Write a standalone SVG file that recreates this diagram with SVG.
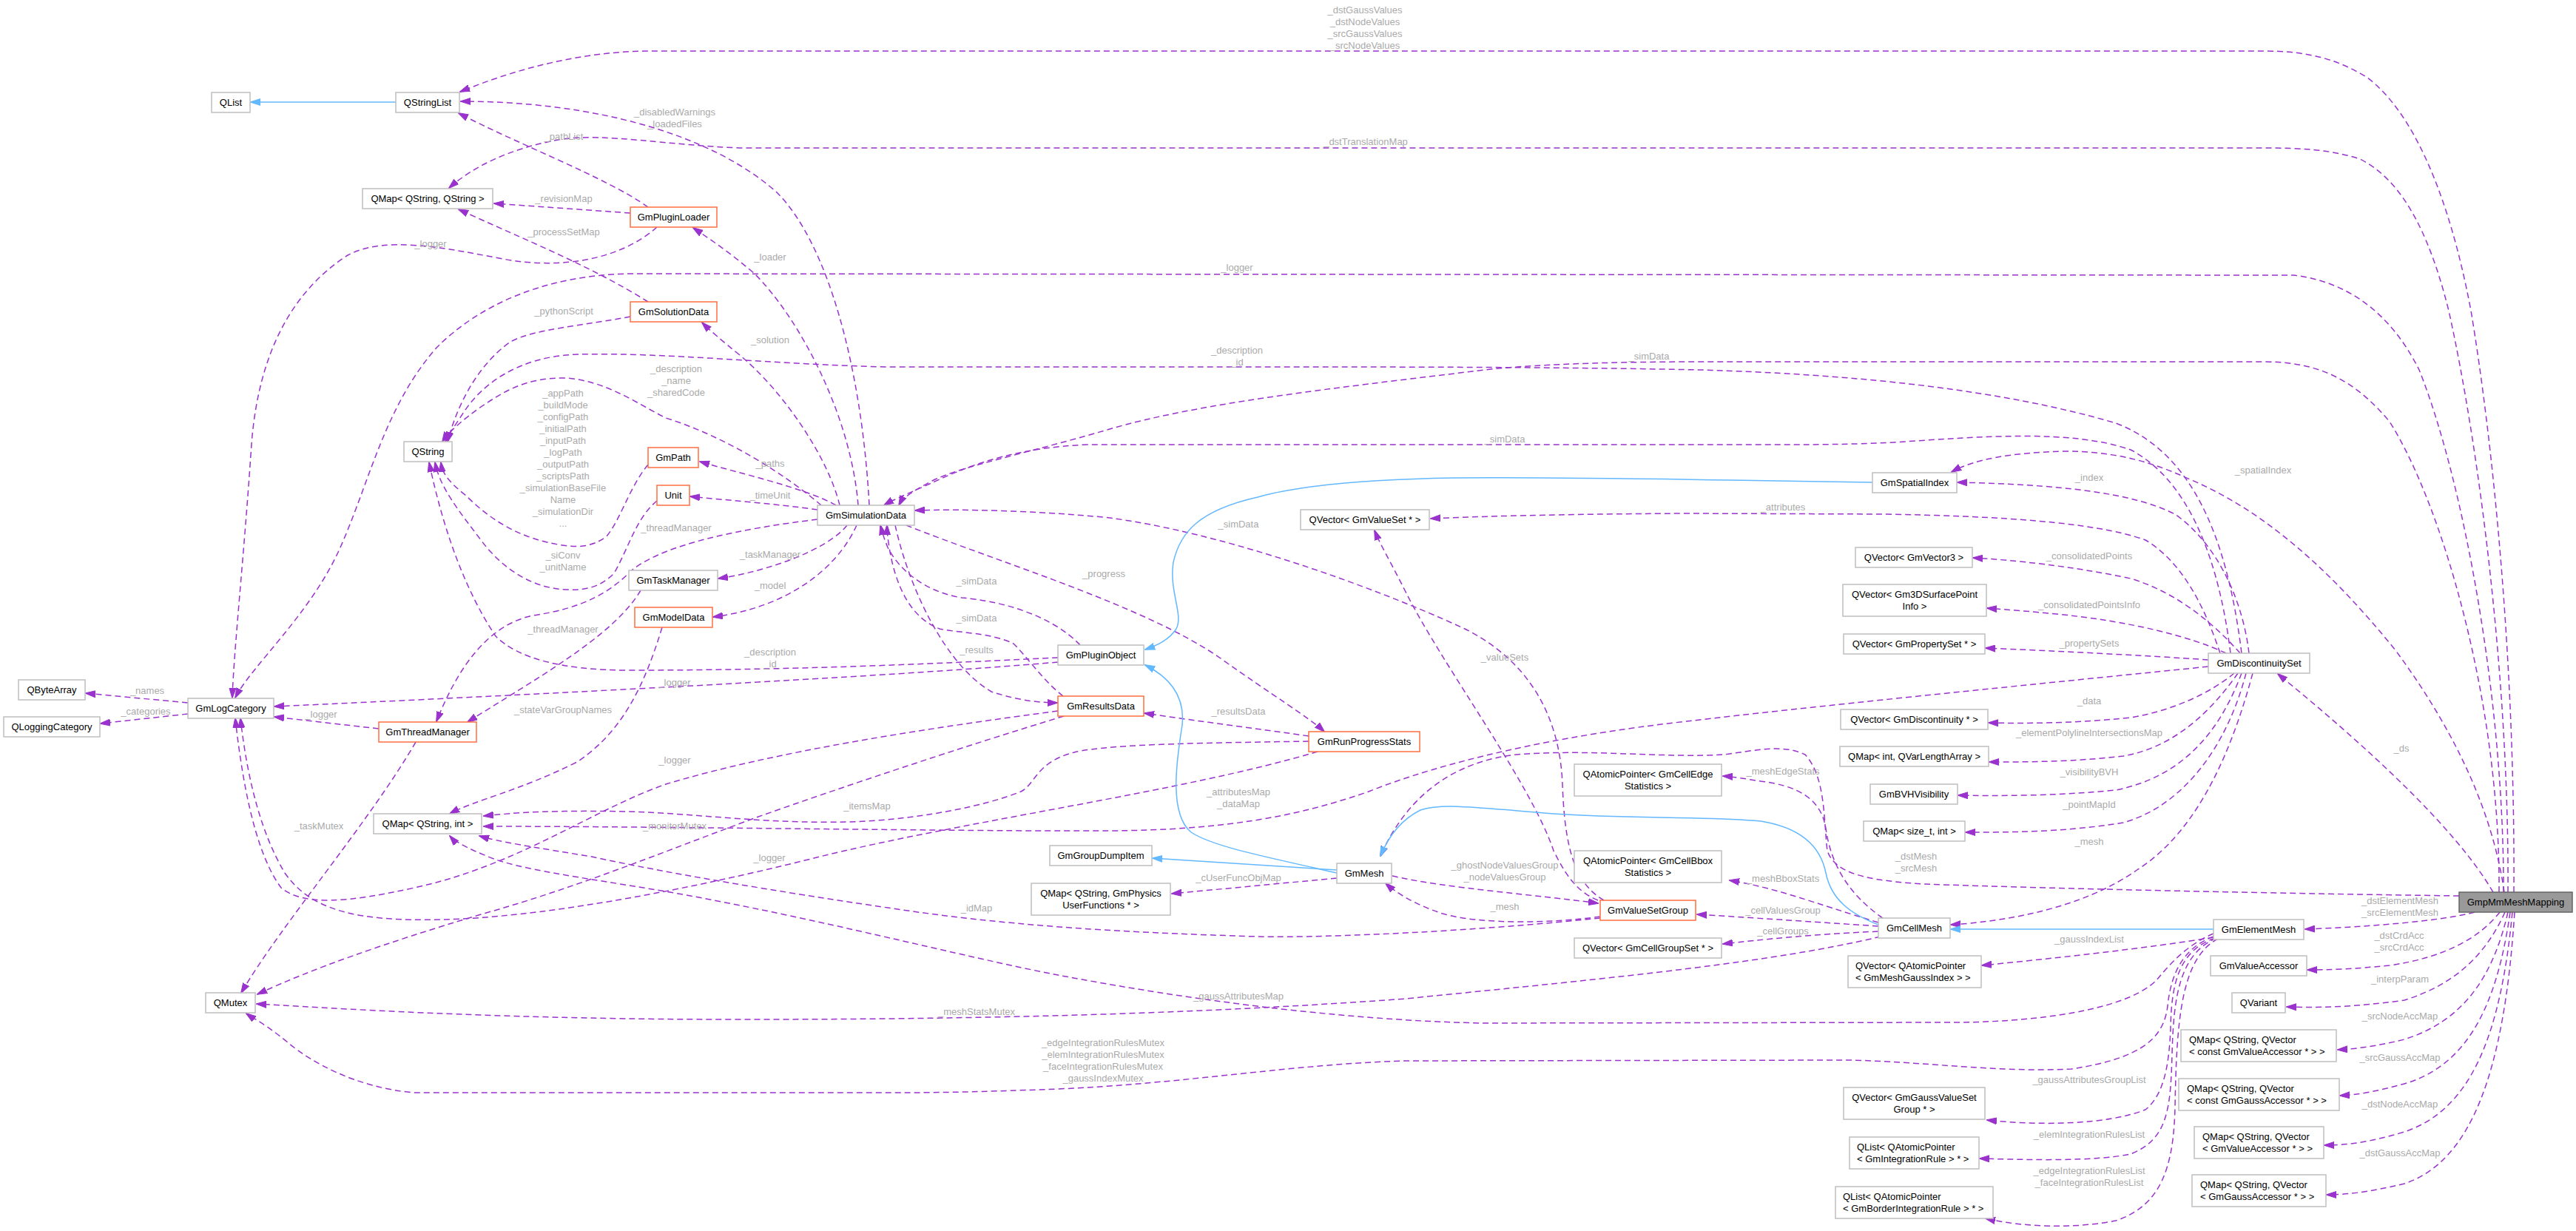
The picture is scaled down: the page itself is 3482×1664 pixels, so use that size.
<svg xmlns="http://www.w3.org/2000/svg" width="3482" height="1664" viewBox="0 0 3482 1664">
<style>
text{font-family:"Liberation Sans",Arial,sans-serif;font-size:13px}
.n rect{fill:#fff;stroke:#bfbfbf;stroke-width:1.5}
.n.t rect{stroke:#ff6f3f}
.n.m rect{fill:#999;stroke:#666}
.n text{fill:#000;text-anchor:middle}
.n text.l{text-anchor:start}
.lb text{fill:#aaa;text-anchor:middle}
.e{fill:none;stroke:#9a32cd;stroke-width:1.5;stroke-dasharray:8,5;marker-end:url(#ap)}
.i{fill:none;stroke:#63b8ff;stroke-width:1.5;marker-end:url(#ab)}
</style>
<defs>
<marker id="ap" markerUnits="userSpaceOnUse" markerWidth="14" markerHeight="10" viewBox="0 0 14 10" refX="13" refY="5" orient="auto"><path d="M0,0.5 L14,5 L0,9.5 z" fill="#9a32cd" stroke="#9a32cd"/></marker>
<marker id="ab" markerUnits="userSpaceOnUse" markerWidth="14" markerHeight="10" viewBox="0 0 14 10" refX="13" refY="5" orient="auto"><path d="M0,0.5 L14,5 L0,9.5 z" fill="#63b8ff" stroke="#63b8ff"/></marker>
</defs>
<rect width="3482" height="1664" fill="#fff"/>
<g id="edges">
<path class="e" d="M3398,1206 C3400,900 3370,600 3340,420 C3310,260 3260,150 3200,105 C3160,80 3120,69 3060,69 L880,69 C790,69 700,92 622,124"/>
<path class="e" d="M3390,1206 C3392,920 3350,600 3310,420 C3280,300 3240,240 3190,215 C3150,202 3110,200 3060,200 L1000,200 C900,196 820,180 760,188 C690,200 640,225 607,254"/>
<path class="e" d="M3384,1206 C3385,950 3330,650 3270,500 C3230,420 3170,380 3100,372 L850,370 C740,372 650,410 590,470 C520,550 500,650 460,740 C420,830 340,900 318,943"/>
<path class="e" d="M3378,1206 C3380,950 3300,680 3230,570 C3180,510 3130,489 3060,489 L2300,489 C2150,489 2050,494 1990,502 C1800,525 1620,545 1500,580 C1380,615 1300,630 1260,650 C1235,663 1220,673 1215,683"/>
<path class="e" d="M3015,883 C3000,760 2960,650 2880,608 C2800,580 2680,590 2560,598 C2500,601 2450,601 2400,601 L1470,601 C1380,605 1320,625 1270,648 C1235,664 1208,675 1195,683"/>
<path class="e" d="M3030,883 C3010,720 2960,610 2860,572 C2700,525 2500,506 2300,500 C2100,496 1900,496 1700,496 L1200,496 C1050,493 900,476 780,479 C700,482 650,520 625,560 C615,575 606,588 602,597"/>
<path class="e" d="M876,280 C820,240 700,195 620,153"/>
<path class="e" d="M1175,683 C1165,500 1120,330 1050,260 C960,180 800,137 623,137"/>
<path class="e" d="M852,288 L668,275"/>
<path class="e" d="M876,408 C800,360 700,320 620,283"/>
<path class="e" d="M888,307 C840,350 760,365 680,350 C600,335 520,318 470,345 C400,390 350,470 340,600 C330,750 316,880 314,943"/>
<path class="e" d="M1160,683 C1150,560 1080,430 1020,370 C985,340 955,320 937,308"/>
<path class="e" d="M1135,683 C1120,620 1060,530 1000,480 C975,460 958,445 949,436"/>
<path class="e" d="M852,428 C790,440 720,445 690,462 C650,490 620,540 605,597"/>
<path class="e" d="M1110,683 C1060,640 980,590 900,565 C860,545 820,515 765,511 C710,510 680,530 650,550 C625,568 605,585 598,597"/>
<path class="e" d="M876,628 C850,660 840,700 820,725 C800,740 780,740 760,737 C700,728 660,700 630,670 C605,650 598,640 596,625"/>
<path class="e" d="M888,677 C860,700 850,740 830,775 C810,795 790,798 765,797 C720,795 680,770 650,730 C620,690 595,660 588,625"/>
<path class="e" d="M1430,889 C1300,895 1100,906 850,906 C760,906 700,890 670,860 C630,800 600,720 580,625"/>
<path class="e" d="M1130,683 C1090,660 1000,640 946,624"/>
<path class="e" d="M1105,689 C1050,681 980,676 933,671"/>
<path class="e" d="M1105,702 C1000,715 900,735 855,770 C825,800 790,822 720,832 C660,845 620,900 590,975"/>
<path class="e" d="M866,798 C830,860 720,920 632,976"/>
<path class="e" d="M1145,710 C1120,742 1040,772 971,782"/>
<path class="e" d="M1158,710 C1130,772 1060,822 964,834"/>
<path class="e" d="M254,950 L116,937"/>
<path class="e" d="M254,965 L136,978"/>
<path class="e" d="M512,985 L371,969"/>
<path class="e" d="M895,848 C870,930 840,990 780,1030 C700,1070 640,1082 608,1100"/>
<path class="e" d="M562,1003 C500,1110 380,1250 326,1342"/>
<path class="e" d="M1430,895 C1200,915 700,940 371,955"/>
<path class="e" d="M1430,961 C1250,985 1050,1015 900,1060 C800,1095 700,1170 560,1200 C470,1220 410,1225 380,1200 C350,1160 330,1080 318,971"/>
<path class="e" d="M1781,1016 C1600,1070 1300,1110 1100,1160 C900,1210 720,1240 600,1243 C480,1246 420,1230 385,1180 C355,1130 335,1060 325,971"/>
<path class="e" d="M1438,968 C1300,1010 1150,1060 1025,1104 C900,1150 780,1200 650,1236 C520,1275 420,1310 348,1344"/>
<path class="e" d="M1769,1002 C1650,1004 1500,1005 1452,1017 C1400,1030 1400,1060 1380,1070 C1330,1090 1250,1105 1172,1110 C1050,1116 950,1100 850,1097 C750,1095 700,1098 654,1103"/>
<path class="e" d="M2985,901 C2700,930 2450,955 2280,975 C2100,995 1950,1030 1850,1070 C1750,1105 1650,1122 1500,1123 C1300,1124 900,1117 654,1117"/>
<path class="e" d="M2163,1241 C2000,1258 1800,1268 1700,1266 C1500,1260 1350,1250 1200,1227 C1050,1205 900,1180 800,1158 C720,1145 675,1138 648,1130"/>
<path class="e" d="M2992,1262 C2960,1275 2935,1300 2915,1325 C2880,1360 2780,1380 2650,1382 L2000,1383 C1800,1378 1600,1350 1430,1318 C1300,1293 1100,1240 900,1205 C780,1185 700,1175 660,1158 C635,1148 615,1138 608,1130"/>
<path class="e" d="M2542,1266 C2400,1300 2200,1320 1900,1350 C1600,1372 1300,1378 1000,1378 C700,1378 500,1366 347,1357"/>
<path class="e" d="M2992,1266 C2955,1280 2935,1310 2930,1360 C2925,1400 2900,1430 2800,1445 C2700,1450 2600,1435 2500,1433 L1900,1434 C1750,1438 1600,1465 1430,1472 C1300,1477 1250,1477 1200,1477 L560,1477 C480,1470 420,1435 390,1410 C360,1385 340,1375 333,1370"/>
<path class="e" d="M2992,1267 C2900,1282 2780,1295 2679,1305"/>
<path class="e" d="M2994,1268 C2945,1285 2935,1330 2934,1390 C2932,1440 2925,1480 2900,1500 C2850,1520 2760,1522 2686,1514"/>
<path class="e" d="M2996,1268 C2945,1290 2938,1350 2936,1425 C2934,1500 2930,1540 2880,1560 C2830,1570 2750,1568 2676,1566"/>
<path class="e" d="M2998,1269 C2948,1295 2942,1380 2940,1497 C2938,1580 2920,1630 2860,1650 C2800,1662 2730,1658 2684,1647"/>
<path class="e" d="M1807,1187 L1584,1208"/>
<path class="e" d="M1882,1184 C1950,1200 2080,1210 2160,1221"/>
<path class="e" d="M2163,1239 C2100,1248 2000,1250 1950,1235 C1910,1222 1885,1205 1873,1194"/>
<path class="e" d="M2160,1217 C2130,1205 2115,1180 2100,1150 C2070,1060 1950,900 1900,800 C1880,760 1865,735 1858,717"/>
<path class="e" d="M2168,1217 C2130,1195 2115,1150 2112,1060 C2108,960 2060,890 1980,850 C1850,790 1650,720 1500,700 C1400,690 1300,688 1237,690"/>
<path class="e" d="M1225,710 C1350,760 1550,820 1650,890 C1720,940 1770,970 1790,989"/>
<path class="e" d="M1210,710 C1230,800 1280,900 1340,935 C1380,948 1410,950 1429,950"/>
<path class="e" d="M1460,872 C1420,830 1350,812 1300,808 C1250,800 1215,770 1200,740 C1195,728 1192,718 1190,710"/>
<path class="e" d="M1437,941 C1410,920 1390,890 1370,870 C1340,855 1290,855 1270,850 C1230,835 1210,790 1202,740 C1200,728 1199,718 1199,710"/>
<path class="e" d="M1769,995 C1700,985 1620,975 1547,964"/>
<path class="e" d="M3001,883 C2980,820 2950,760 2900,730 C2830,705 2700,698 2550,695 L2280,694 C2100,695 2000,698 1934,701"/>
<path class="e" d="M3385,1206 C3370,1100 3320,990 3238,879 C3150,770 3060,690 2960,648 C2900,620 2850,610 2790,610 C2720,612 2670,620 2638,638"/>
<path class="e" d="M3040,883 C3030,800 2990,730 2940,695 C2880,665 2780,655 2646,652"/>
<path class="e" d="M3028,883 C2990,840 2940,800 2880,782 C2800,765 2720,757 2667,754"/>
<path class="e" d="M3009,883 C2960,860 2880,840 2780,830 C2740,826 2710,824 2686,822"/>
<path class="e" d="M2985,892 C2900,886 2780,880 2684,876"/>
<path class="e" d="M3020,910 C2990,935 2940,960 2880,970 C2800,978 2740,978 2688,977"/>
<path class="e" d="M3025,910 C2990,960 2940,1010 2870,1022 C2800,1030 2740,1030 2689,1030"/>
<path class="e" d="M3030,910 C3000,990 2950,1050 2860,1068 C2780,1076 2700,1076 2647,1075"/>
<path class="e" d="M3036,910 C3010,1010 2950,1090 2870,1112 C2790,1125 2720,1125 2657,1125"/>
<path class="e" d="M3045,910 C3010,1040 2960,1130 2890,1175 C2820,1225 2720,1245 2637,1250"/>
<path class="e" d="M3370,1206 C3320,1120 3200,1010 3079,911"/>
<path class="e" d="M3324,1211 C3100,1208 2800,1202 2600,1195 C2520,1190 2480,1180 2470,1150 C2465,1110 2468,1050 2440,1020 C2410,1005 2370,1015 2330,1020 C2250,1025 2150,1012 2050,1020 C1960,1030 1900,1080 1866,1157"/>
<path class="e" d="M2545,1241 C2500,1210 2475,1170 2468,1120 C2462,1080 2430,1062 2380,1056 C2360,1053 2345,1050 2329,1049"/>
<path class="e" d="M2539,1247 C2450,1220 2400,1200 2338,1190"/>
<path class="e" d="M2539,1252 C2450,1246 2360,1240 2294,1236"/>
<path class="e" d="M2539,1259 C2450,1263 2380,1270 2329,1276"/>
<path class="e" d="M3345,1233 C3300,1245 3200,1253 3116,1256"/>
<path class="e" d="M3379,1233 C3350,1270 3300,1295 3230,1305 C3180,1310 3150,1311 3119,1311"/>
<path class="e" d="M3386,1233 C3360,1290 3320,1330 3250,1352 C3180,1362 3130,1362 3091,1361"/>
<path class="e" d="M3390,1233 C3370,1320 3330,1380 3250,1405 C3210,1415 3180,1418 3160,1419"/>
<path class="e" d="M3393,1233 C3375,1360 3335,1440 3250,1465 C3210,1476 3185,1480 3163,1481"/>
<path class="e" d="M3396,1233 C3380,1400 3340,1500 3250,1530 C3200,1545 3170,1548 3142,1548"/>
<path class="e" d="M3399,1233 C3385,1450 3340,1570 3250,1600 C3200,1612 3170,1615 3145,1615"/>
<path class="i" d="M535,138 L339,138"/>
<path class="i" d="M2992,1256 L2637,1256"/>
<path class="i" d="M2539,1250 C2500,1235 2475,1215 2468,1180 C2460,1140 2430,1118 2380,1110 C2300,1103 2200,1107 2100,1100 C2000,1092 1950,1085 1920,1095 C1890,1110 1875,1135 1866,1157"/>
<path class="i" d="M1807,1176 L1558,1160"/>
<path class="i" d="M1807,1180 C1720,1160 1640,1145 1610,1125 C1580,1100 1590,1030 1598,980 C1602,940 1580,915 1548,899"/>
<path class="i" d="M2531,652 C2300,648 2100,645 1965,646 C1850,648 1760,655 1700,672 C1620,690 1595,720 1586,760 C1580,800 1600,830 1590,850 C1580,865 1565,872 1548,878"/>
</g>
<g id="edge-labels" class="lb">
<text x="1845" y="18">_dstGaussValues</text>
<text x="1845" y="34">_dstNodeValues</text>
<text x="1845" y="50">_srcGaussValues</text>
<text x="1845" y="66">_srcNodeValues</text>
<text x="1846" y="196">_dstTranslationMap</text>
<text x="1672" y="366">_logger</text>
<text x="1672" y="478">_description</text>
<text x="1672" y="494">_id</text>
<text x="2229" y="486">_simData</text>
<text x="762" y="189">_pathList</text>
<text x="912" y="156">_disabledWarnings</text>
<text x="912" y="172">_loadedFiles</text>
<text x="762" y="273">_revisionMap</text>
<text x="762" y="318">_processSetMap</text>
<text x="582" y="334">_logger</text>
<text x="1041" y="352">_loader</text>
<text x="1041" y="464">_solution</text>
<text x="762" y="425">_pythonScript</text>
<text x="914" y="503">_description</text>
<text x="914" y="519">_name</text>
<text x="914" y="535">_sharedCode</text>
<text x="761" y="536">_appPath</text>
<text x="761" y="552">_buildMode</text>
<text x="761" y="568">_configPath</text>
<text x="761" y="584">_initialPath</text>
<text x="761" y="600">_inputPath</text>
<text x="761" y="616">_logPath</text>
<text x="761" y="632">_outputPath</text>
<text x="761" y="648">_scriptsPath</text>
<text x="761" y="664">_simulationBaseFile</text>
<text x="761" y="680">Name</text>
<text x="761" y="696">_simulationDir</text>
<text x="761" y="712">...</text>
<text x="1041" y="631">_paths</text>
<text x="1041" y="674">_timeUnit</text>
<text x="914" y="718">_threadManager</text>
<text x="761" y="755">_siConv</text>
<text x="761" y="771">_unitName</text>
<text x="1041" y="754">_taskManager</text>
<text x="1041" y="796">_model</text>
<text x="761" y="855">_threadManager</text>
<text x="1041" y="886">_description</text>
<text x="1041" y="902">_id</text>
<text x="912" y="927">_logger</text>
<text x="199" y="938">_names</text>
<text x="197" y="966">_categories</text>
<text x="434" y="970">_logger</text>
<text x="761" y="964">_stateVarGroupNames</text>
<text x="912" y="1032">_logger</text>
<text x="1172" y="1094">_itemsMap</text>
<text x="912" y="1121">_monitorMutex</text>
<text x="431" y="1121">_taskMutex</text>
<text x="1040" y="1164">_logger</text>
<text x="2034" y="598">_simData</text>
<text x="1674" y="713">_simData</text>
<text x="1492" y="780">_progress</text>
<text x="1320" y="790">_simData</text>
<text x="1320" y="840">_simData</text>
<text x="1320" y="883">_results</text>
<text x="1674" y="966">_resultsData</text>
<text x="2034" y="893">_valueSets</text>
<text x="1674" y="1075">_attributesMap</text>
<text x="1674" y="1091">_dataMap</text>
<text x="3059" y="640">_spatialIndex</text>
<text x="2824" y="650">_index</text>
<text x="2410" y="690">_attributes</text>
<text x="2824" y="756">_consolidatedPoints</text>
<text x="2824" y="822">_consolidatedPointsInfo</text>
<text x="2824" y="874">_propertySets</text>
<text x="2824" y="952">_data</text>
<text x="2824" y="995">_elementPolylineIntersectionsMap</text>
<text x="3246" y="1016">_ds</text>
<text x="2824" y="1048">_visibilityBVH</text>
<text x="2410" y="1047">_meshEdgeStats</text>
<text x="2824" y="1092">_pointMapId</text>
<text x="2824" y="1142">_mesh</text>
<text x="2590" y="1162">_dstMesh</text>
<text x="2590" y="1178">_srcMesh</text>
<text x="2410" y="1192">_meshBboxStats</text>
<text x="2410" y="1235">_cellValuesGroup</text>
<text x="2410" y="1263">_cellGroups</text>
<text x="2824" y="1274">_gaussIndexList</text>
<text x="2034" y="1174">_ghostNodeValuesGroup</text>
<text x="2034" y="1190">_nodeValuesGroup</text>
<text x="1674" y="1191">_cUserFuncObjMap</text>
<text x="2034" y="1230">_mesh</text>
<text x="1320" y="1232">_idMap</text>
<text x="1674" y="1351">_gaussAttributesMap</text>
<text x="1320" y="1372">_meshStatsMutex</text>
<text x="1491" y="1414">_edgeIntegrationRulesMutex</text>
<text x="1491" y="1430">_elemIntegrationRulesMutex</text>
<text x="1491" y="1446">_faceIntegrationRulesMutex</text>
<text x="1491" y="1462">_gaussIndexMutex</text>
<text x="2824" y="1464">_gaussAttributesGroupList</text>
<text x="2824" y="1538">_elemIntegrationRulesList</text>
<text x="2824" y="1587">_edgeIntegrationRulesList</text>
<text x="2824" y="1603">_faceIntegrationRulesList</text>
<text x="3244" y="1222">_dstElementMesh</text>
<text x="3244" y="1238">_srcElementMesh</text>
<text x="3243" y="1269">_dstCrdAcc</text>
<text x="3243" y="1285">_srcCrdAcc</text>
<text x="3244" y="1328">_interpParam</text>
<text x="3244" y="1378">_srcNodeAccMap</text>
<text x="3244" y="1434">_srcGaussAccMap</text>
<text x="3244" y="1497">_dstNodeAccMap</text>
<text x="3244" y="1563">_dstGaussAccMap</text>
</g>
<g id="QList" class="n"><rect x="286" y="125" width="52" height="27"/><text x="312" y="143">QList</text></g>
<g id="QStringList" class="n"><rect x="535" y="125" width="86" height="27"/><text x="578" y="143">QStringList</text></g>
<g id="QMapQStringQString" class="n"><rect x="490" y="255" width="176" height="27"/><text x="578" y="273">QMap&lt; QString, QString &gt;</text></g>
<g id="GmPluginLoader" class="n t"><rect x="852" y="280" width="117" height="27"/><text x="910.5" y="298">GmPluginLoader</text></g>
<g id="GmSolutionData" class="n t"><rect x="852" y="408" width="117" height="27"/><text x="910.5" y="426">GmSolutionData</text></g>
<g id="QString" class="n"><rect x="546" y="597" width="65" height="27"/><text x="578.5" y="615">QString</text></g>
<g id="GmPath" class="n t"><rect x="876" y="605" width="68" height="27"/><text x="910" y="623">GmPath</text></g>
<g id="Unit" class="n t"><rect x="888" y="656" width="44" height="27"/><text x="910" y="674">Unit</text></g>
<g id="GmSimulationData" class="n"><rect x="1105" y="683" width="131" height="27"/><text x="1170.5" y="701">GmSimulationData</text></g>
<g id="GmTaskManager" class="n"><rect x="850" y="771" width="120" height="27"/><text x="910" y="789">GmTaskManager</text></g>
<g id="GmModelData" class="n t"><rect x="858" y="821" width="105" height="27"/><text x="910.5" y="839">GmModelData</text></g>
<g id="QByteArray" class="n"><rect x="25" y="919" width="90" height="27"/><text x="70" y="937">QByteArray</text></g>
<g id="QLoggingCategory" class="n"><rect x="5" y="969" width="130" height="27"/><text x="70" y="987">QLoggingCategory</text></g>
<g id="GmLogCategory" class="n"><rect x="254" y="944" width="116" height="27"/><text x="312" y="962">GmLogCategory</text></g>
<g id="GmThreadManager" class="n t"><rect x="512" y="976" width="132" height="27"/><text x="578" y="994">GmThreadManager</text></g>
<g id="QMapQStringInt" class="n"><rect x="505" y="1100" width="146" height="27"/><text x="578" y="1118">QMap&lt; QString, int &gt;</text></g>
<g id="QMutex" class="n"><rect x="278" y="1342" width="67" height="27"/><text x="311.5" y="1360">QMutex</text></g>
<g id="QVectorGmValueSet" class="n"><rect x="1758" y="689" width="174" height="27"/><text x="1845" y="707">QVector&lt; GmValueSet * &gt;</text></g>
<g id="GmPluginObject" class="n"><rect x="1430" y="872" width="116" height="27"/><text x="1488" y="890">GmPluginObject</text></g>
<g id="GmResultsData" class="n t"><rect x="1430" y="941" width="116" height="27"/><text x="1488" y="959">GmResultsData</text></g>
<g id="GmRunProgressStats" class="n t"><rect x="1769" y="989" width="150" height="27"/><text x="1844" y="1007">GmRunProgressStats</text></g>
<g id="QAtomicPointerGmCellEdgeStatistics" class="n"><rect x="2128" y="1033" width="199" height="43"/><text x="2227.5" y="1051">QAtomicPointer&lt; GmCellEdge</text><text x="2227.5" y="1067">Statistics &gt;</text></g>
<g id="GmGroupDumpItem" class="n"><rect x="1419" y="1143" width="138" height="27"/><text x="1488" y="1161">GmGroupDumpItem</text></g>
<g id="QMapQStringGmPhysicsUserFunctions" class="n"><rect x="1394" y="1194" width="188" height="43"/><text x="1488" y="1212">QMap&lt; QString, GmPhysics</text><text x="1488" y="1228">UserFunctions * &gt;</text></g>
<g id="GmMesh" class="n"><rect x="1807" y="1167" width="74" height="27"/><text x="1844" y="1185">GmMesh</text></g>
<g id="QAtomicPointerGmCellBboxStatistics" class="n"><rect x="2128" y="1150" width="199" height="43"/><text x="2227.5" y="1168">QAtomicPointer&lt; GmCellBbox</text><text x="2227.5" y="1184">Statistics &gt;</text></g>
<g id="GmValueSetGroup" class="n t"><rect x="2163" y="1217" width="129" height="27"/><text x="2227.5" y="1235">GmValueSetGroup</text></g>
<g id="QVectorGmCellGroupSet" class="n"><rect x="2128" y="1268" width="199" height="27"/><text x="2227.5" y="1286">QVector&lt; GmCellGroupSet * &gt;</text></g>
<g id="GmSpatialIndex" class="n"><rect x="2531" y="639" width="114" height="27"/><text x="2588" y="657">GmSpatialIndex</text></g>
<g id="QVectorGmVector3" class="n"><rect x="2508" y="740" width="158" height="27"/><text x="2587" y="758">QVector&lt; GmVector3 &gt;</text></g>
<g id="QVectorGm3DSurfacePointInfo" class="n"><rect x="2491" y="790" width="194" height="43"/><text x="2588" y="808">QVector&lt; Gm3DSurfacePoint</text><text x="2588" y="824">Info &gt;</text></g>
<g id="QVectorGmPropertySet" class="n"><rect x="2492" y="857" width="191" height="27"/><text x="2587.5" y="875">QVector&lt; GmPropertySet * &gt;</text></g>
<g id="GmDiscontinuitySet" class="n"><rect x="2985" y="883" width="137" height="27"/><text x="3053.5" y="901">GmDiscontinuitySet</text></g>
<g id="QVectorGmDiscontinuity" class="n"><rect x="2488" y="959" width="199" height="27"/><text x="2587.5" y="977">QVector&lt; GmDiscontinuity * &gt;</text></g>
<g id="QMapIntQVarLengthArray" class="n"><rect x="2487" y="1009" width="201" height="27"/><text x="2587.5" y="1027">QMap&lt; int, QVarLengthArray &gt;</text></g>
<g id="GmBVHVisibility" class="n"><rect x="2528" y="1060" width="118" height="27"/><text x="2587" y="1078">GmBVHVisibility</text></g>
<g id="QMapSizeTInt" class="n"><rect x="2519" y="1110" width="137" height="27"/><text x="2587.5" y="1128">QMap&lt; size_t, int &gt;</text></g>
<g id="GmCellMesh" class="n"><rect x="2539" y="1241" width="97" height="27"/><text x="2587.5" y="1259">GmCellMesh</text></g>
<g id="QVectorQAtomicPointerGmMeshGaussIndex" class="n"><rect x="2498" y="1292" width="180" height="43"/><text class="l" x="2508" y="1310">QVector&lt; QAtomicPointer</text><text class="l" x="2508" y="1326">&lt; GmMeshGaussIndex &gt; &gt;</text></g>
<g id="QVectorGmGaussValueSetGroup" class="n"><rect x="2492" y="1470" width="191" height="43"/><text x="2587.5" y="1488">QVector&lt; GmGaussValueSet</text><text x="2587.5" y="1504">Group * &gt;</text></g>
<g id="QListQAtomicPointerGmIntegrationRule" class="n"><rect x="2500" y="1537" width="175" height="43"/><text class="l" x="2510" y="1555">QList&lt; QAtomicPointer</text><text class="l" x="2510" y="1571">&lt; GmIntegrationRule &gt; * &gt;</text></g>
<g id="QListQAtomicPointerGmBorderIntegrationRule" class="n"><rect x="2481" y="1604" width="213" height="43"/><text class="l" x="2491" y="1622">QList&lt; QAtomicPointer</text><text class="l" x="2491" y="1638">&lt; GmBorderIntegrationRule &gt; * &gt;</text></g>
<g id="GmpMmMeshMapping" class="n m"><rect x="3324" y="1206" width="153" height="27"/><text x="3400.5" y="1224">GmpMmMeshMapping</text></g>
<g id="GmElementMesh" class="n"><rect x="2992" y="1243" width="122" height="27"/><text x="3053" y="1261">GmElementMesh</text></g>
<g id="GmValueAccessor" class="n"><rect x="2988" y="1292" width="130" height="27"/><text x="3053" y="1310">GmValueAccessor</text></g>
<g id="QVariant" class="n"><rect x="3017" y="1342" width="72" height="27"/><text x="3053" y="1360">QVariant</text></g>
<g id="QMapQStringQVectorConstGmValueAccessor" class="n"><rect x="2948" y="1392" width="210" height="43"/><text class="l" x="2959" y="1410">QMap&lt; QString, QVector</text><text class="l" x="2959" y="1426">&lt; const GmValueAccessor * &gt; &gt;</text></g>
<g id="QMapQStringQVectorConstGmGaussAccessor" class="n"><rect x="2945" y="1458" width="217" height="43"/><text class="l" x="2956" y="1476">QMap&lt; QString, QVector</text><text class="l" x="2956" y="1492">&lt; const GmGaussAccessor * &gt; &gt;</text></g>
<g id="QMapQStringQVectorGmValueAccessor" class="n"><rect x="2966" y="1523" width="175" height="43"/><text class="l" x="2977" y="1541">QMap&lt; QString, QVector</text><text class="l" x="2977" y="1557">&lt; GmValueAccessor * &gt; &gt;</text></g>
<g id="QMapQStringQVectorGmGaussAccessor" class="n"><rect x="2963" y="1588" width="181" height="43"/><text class="l" x="2974" y="1606">QMap&lt; QString, QVector</text><text class="l" x="2974" y="1622">&lt; GmGaussAccessor * &gt; &gt;</text></g>
</svg>
